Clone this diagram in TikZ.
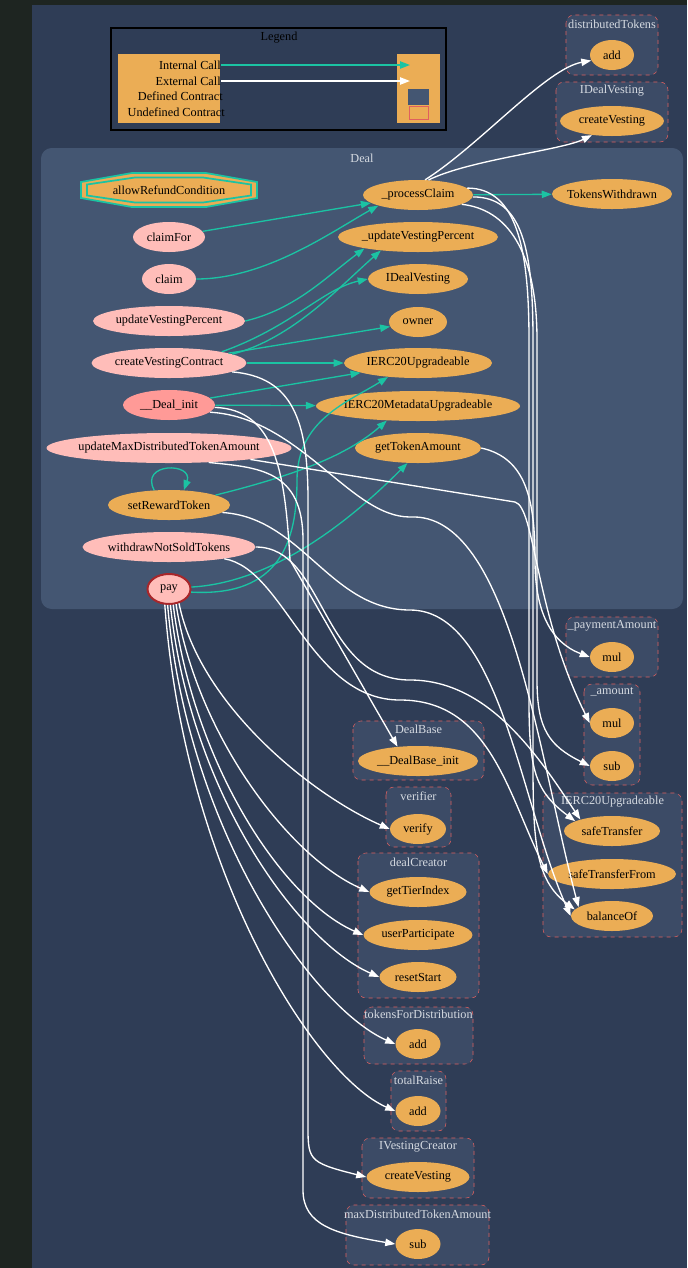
\documentclass[tikz,border=0pt]{standalone}
\usepackage{fontspec}
\setmainfont{Liberation Serif}
\usetikzlibrary{arrows.meta,shapes.geometric}

\definecolor{pagebg}{HTML}{1E2521}
\definecolor{mainbg}{HTML}{2F3D56}
\definecolor{dealbg}{HTML}{445672}
\definecolor{extbg}{HTML}{3C4B66}
\definecolor{extline}{HTML}{E0605E}
\definecolor{fnorange}{HTML}{EBAD55}
\definecolor{fnpink}{HTML}{FFBDB9}
\definecolor{fnred}{HTML}{FF9A97}
\definecolor{payline}{HTML}{A8262A}
\definecolor{intcall}{HTML}{1BC3A3}
\definecolor{boxtext}{HTML}{D5DAE1}

\newcommand{\gvfont}{\fontsize{9.2}{11}\selectfont}

\tikzset{
  fn/.style={ellipse, fill=fnorange, text=black, inner xsep=-8pt, inner ysep=0pt,
    minimum height=22.5pt, font=\gvfont},
  pub/.style={fn, fill=fnpink},
  gvw/.style={minimum width=#1*0.75pt},
  intarrow/.style={draw=intcall, line width=1pt, -{Triangle[length=7.5pt,width=5.5pt]}},
  extarrow/.style={draw=white, line width=1pt, -{Triangle[length=7.5pt,width=5.5pt]}},
  extbox/.style={draw=extline, dashed, fill=extbg, rounded corners=6pt},
  boxlabel/.style={text=boxtext, font=\gvfont}
}

\begin{document}
\begin{tikzpicture}[x=0.75pt, y=-0.75pt]
\useasboundingbox (0,0) rectangle (687,1268);

% background
\fill[pagebg] (0,0) rectangle (687,1268);
\fill[mainbg] (32,5) rectangle (687,1268);

% legend
\draw[black, line width=0.8pt] (111,28) rectangle (446,130);
\node[font=\gvfont] (legend) at (279,38) {Legend};
\fill[fnorange] (118,54) rectangle (220,123);
\fill[fnorange] (397,54) rectangle (440,123);
\node[font=\gvfont, anchor=east, inner sep=0pt] (legInt) at (221,65) {Internal Call};
\node[font=\gvfont, anchor=east, inner sep=0pt] (legExt) at (221,81) {External Call};
\node[font=\gvfont, anchor=east, inner sep=0pt] (legDef) at (223,96) {Defined Contract};
\node[font=\gvfont, anchor=east, inner sep=0pt] (legUndef) at (225,112) {Undefined Contract};
\coordinate (legIntEnd) at (410,65);
\coordinate (legExtEnd) at (410,81);
\draw[intarrow] (legInt.east) -- (legIntEnd);
\draw[extarrow] (legExt.east) -- (legExtEnd);
\fill[dealbg] (408,89) rectangle (429,105);
\draw[extline] (409,106) rectangle (428,119);

% contract Deal
\fill[dealbg, rounded corners=8pt] (41,148) rectangle (683,609);
\node[boxlabel] (dealLabel) at (362,158) {Deal};

% undefined contracts
\foreach \xa/\ya/\xb/\yb/\ly/\lab [count=\k] in {
    566/15/658/75/24/distributedTokens,
    556/82/668/142/91/IDealVesting,
    566/617/658/677/626/\_paymentAmount,
    584/684/640/785/692/\_amount,
    543/793/682/937/802/IERC20Upgradeable,
    353/721/484/780/729/DealBase,
    386/787/451/847/796/verifier,
    358/853/479/998/862/dealCreator,
    364/1007/473/1064/1014/tokensForDistribution,
    391/1071/446/1131/1080/totalRaise,
    362/1138/474/1198/1147/IVestingCreator,
    346/1205/489/1265/1214/maxDistributedTokenAmount} {
  \draw[extbox] (\xa,\ya) rectangle (\xb,\yb);
  \node[boxlabel] (box\k) at ({(\xa+\xb)/2},\ly) {\lab};
}

% allowRefundCondition (double octagon)
\begin{scope}[shift={(169,190)}]
  \filldraw[fill=fnorange, draw=intcall, line width=1.3pt]
    (-37,-17) -- (37,-17) -- (88,-8) -- (88,8) -- (37,17) -- (-37,17) -- (-88,8) -- (-88,-8) -- cycle;
  \draw[intcall, line width=1.3pt]
    (-34,-12.5) -- (34,-12.5) -- (82,-5.5) -- (82,5.5) -- (34,12.5) -- (-34,12.5) -- (-82,5.5) -- (-82,-5.5) -- cycle;
\end{scope}
\node[font=\gvfont] (allowRefund) at (169,190) {allowRefundCondition};

% functions
\foreach \n/\x/\y/\w/\t in {
    processClaim/418/195/110/\_processClaim,
    tokensWithdrawn/612/194/120/TokensWithdrawn,
    updVesting/418/237/160/\_updateVestingPercent,
    iDealVesting/418/279/100/IDealVesting,
    owner/418/322/58/owner,
    ierc/418/363/148/IERC20Upgradeable,
    iercMeta/418/406/204/IERC20MetadataUpgradeable,
    getTokenAmount/418/448/126/getTokenAmount,
    setRewardToken/169/505/122/setRewardToken,
    distAdd/612/55/44/add,
    idvCreate/612/121/104/createVesting,
    payMul/612/657/44/mul,
    amountMul/612/723/44/mul,
    amountSub/612/766/44/sub,
    safeTransfer/612/831/96/safeTransfer,
    safeTransferFrom/612/874/128/safeTransferFrom,
    balanceOf/612/916/82/balanceOf,
    dealBaseInit/418/761/120/\_\_DealBase\_init,
    verify/418/829/56/verify,
    getTierIndex/418/892/97/getTierIndex,
    userParticipate/418/935/109/userParticipate,
    resetStart/418/977/77/resetStart,
    tfdAdd/418/1044/45/add,
    trAdd/418/1111/45/add,
    ivcCreate/418/1177/103/createVesting,
    maxSub/418/1244/45/sub}
  \node[fn, gvw=\w] (\n) at (\x,\y) {\t};

\foreach \n/\x/\y/\w/\t in {
    claimFor/169/237/72/claimFor,
    claim/169/279/54/claim,
    updateVestingPercent/169/321/152/updateVestingPercent,
    createVestingContract/169/363/155/createVestingContract,
    updateMaxDistributed/169/448/245/updateMaxDistributedTokenAmount,
    withdrawNotSold/169/547/173/withdrawNotSoldTokens}
  \node[pub, gvw=\w] (\n) at (\x,\y) {\t};

\node[fn, fill=fnred, gvw=92] (dealInit) at (169,405) {\_\_Deal\_init};
\node[pub, gvw=43, draw=payline, line width=1.5pt] (pay) at (169,589) {pay};

% internal calls
\draw[intarrow] (claimFor) -- (processClaim);
\draw[intarrow] (claim.east) .. controls +(70,0) and +(-45,25) .. (processClaim.195);
\draw[intarrow] (updateVestingPercent.east) .. controls +(50,-12) and +(-40,30) .. (updVesting.192);
\draw[intarrow] (createVestingContract.8) .. controls +(60,-15) and +(-40,35) .. (updVesting.200);
\draw[intarrow] (createVestingContract.12) .. controls +(70,-25) and +(-45,10) .. (iDealVesting.west);
\draw[intarrow] (createVestingContract) -- (owner);
\draw[intarrow] (createVestingContract) -- (ierc);
\draw[intarrow] (dealInit) -- (ierc);
\draw[intarrow] (dealInit) -- (iercMeta);
\draw[intarrow] (setRewardToken.135) .. controls +(-15,-28) and +(10,-28) .. (setRewardToken.45);
\draw[intarrow] (setRewardToken.12) .. controls +(80,-20) and +(-40,35) .. (iercMeta.205);
\draw[intarrow] (pay.5) .. controls +(90,-5) and +(-45,45) .. (getTokenAmount.235);
\draw[intarrow] (pay.-8) .. controls +(90,5) and +(0,60) .. (297,480) .. controls +(0,-60) and +(-40,25) .. (ierc.205);
\draw[intarrow] (processClaim) -- (tokensWithdrawn);

% external calls
\draw[extarrow] (processClaim.65) .. controls +(55,-35) and +(-45,8) .. (distAdd.195);
\draw[extarrow] (processClaim.55) .. controls +(40,-20) and +(-30,15) .. (idvCreate.215);
\draw[extarrow] (processClaim.8) .. controls +(50,0) and +(0,-90) .. (529,340)
  -- (529,700) .. controls +(0,70) and +(-40,-30) .. (safeTransfer.165);
\draw[extarrow] (processClaim.-2) .. controls +(50,0) and +(0,-90) .. (533,340)
  -- (533,760) .. controls +(0,80) and +(-40,-30) .. (balanceOf.170);
\draw[extarrow] (processClaim.-12) .. controls +(45,5) and +(0,-90) .. (537,340)
  -- (537,680) .. controls +(0,50) and +(-40,-20) .. (amountSub.west);
\draw[extarrow] (getTokenAmount.east) .. controls +(45,10) and +(0,-60) .. (535,560)
  .. controls +(0,50) and +(-40,-15) .. (payMul.west);
\draw[extarrow] (updateMaxDistributed.-8) -- (515,502)
  .. controls +(20,5) and +(-55,-110) .. (amountMul.west);
\draw[extarrow] (updateMaxDistributed.-20) .. controls +(50,5) and +(0,-70) .. (303,540)
  -- (303,1190) .. controls +(0,35) and +(-60,-10) .. (maxSub.west);
\draw[extarrow] (createVestingContract.-8) .. controls +(60,5) and +(0,-80) .. (308,500)
  -- (308,1120) .. controls +(0,40) and +(-60,-15) .. (ivcCreate.west);
\draw[extarrow] (dealInit.-3) .. controls +(60,2) and +(-5,-90) .. (290,560) -- (dealBaseInit.145);
\draw[extarrow] (dealInit.-10) .. controls +(90,5) and +(-60,0) .. (410,517)
  .. controls +(100,-5) and +(-40,-150) .. (balanceOf.165);
\draw[extarrow] (setRewardToken.-8) .. controls +(80,5) and +(-80,0) .. (410,610)
  .. controls +(90,0) and +(-50,-110) .. (balanceOf.west);
\draw[extarrow] (withdrawNotSold.east) .. controls +(70,0) and +(-90,0) .. (410,680)
  .. controls +(80,0) and +(-40,-60) .. (safeTransfer.160);
\draw[extarrow] (withdrawNotSold.-12) .. controls +(60,10) and +(-90,0) .. (400,700)
  .. controls +(90,0) and +(-40,-80) .. (safeTransferFrom.west);

\foreach \a/\t/\d in {-55/verify/100, -65/getTierIndex/130, -75/userParticipate/160,
    -85/resetStart/190, -95/tfdAdd/230, -105/trAdd/270}
  \draw[extarrow] (pay.\a) .. controls +(20,\d) and +(-80,-35) .. (\t.west);

\end{tikzpicture}
\end{document}
